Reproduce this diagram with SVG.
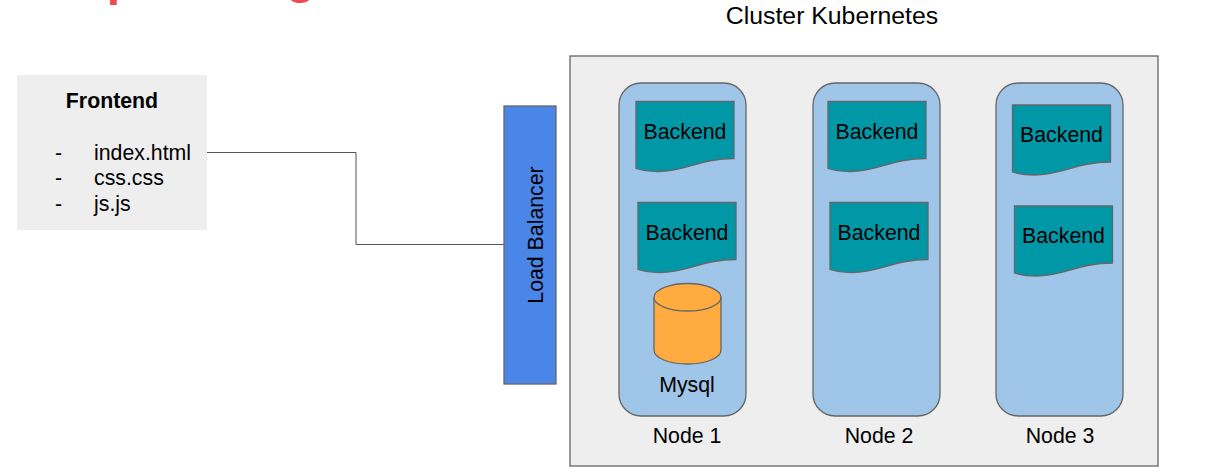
<svg xmlns="http://www.w3.org/2000/svg" width="1218" height="474" viewBox="0 0 1218 474">
<style>
text{font-family:"Liberation Sans",Arial,sans-serif;font-size:21.3px;fill:#000}
.s{stroke:#666;stroke-width:1.3}
.node{fill:#9fc5e8}
.doc{fill:#0097a7}
.m{text-anchor:middle}
.clip{font-size:48px;font-weight:700;fill:#f4484f}
</style>
<defs>
<path id="d" class="doc s" d="M0 0H98V57C64 57 49 70 22 70C12 70 6 69 0 67Z"/>
</defs>
<rect width="1218" height="474" fill="#fff"/>
<text id="clipped-title" x="106.700" y="-5.500" class="clip">p</text>
<text x="286" y="-7" class="clip">g</text>
<g id="connectors"><path d="M207 152.500H356V244.500H504" fill="none" stroke="#555" stroke-width="1"/></g>
<g id="frontend"><rect x="17" y="75" width="190" height="155" fill="#eee"/>
<text x="112" y="108" class="m" style="font-weight:700">Frontend</text>
<text x="55" y="160">-</text><text x="94" y="160">index.html</text>
<text x="55" y="185">-</text><text x="94" y="185">css.css</text>
<text x="55" y="211">-</text><text x="94" y="211">js.js</text></g>
<g id="load-balancer"><rect x="504" y="106" width="52" height="278" fill="#4a86e8" class="s"/>
<text transform="translate(543 235) rotate(-90)" class="m">Load Balancer</text></g>
<g id="cluster"><rect x="570" y="56" width="588" height="410" fill="#eee" class="s"/>
<text x="832" y="24" class="m" style="font-size:24.800px">Cluster Kubernetes</text></g>
<g id="node1"><rect x="619" y="83" width="127" height="333" rx="22" class="node s"/><text x="687" y="443" class="m">Node 1</text></g>
<g id="node2"><rect x="813" y="83" width="127" height="333" rx="22" class="node s"/><text x="879" y="443" class="m">Node 2</text></g>
<g id="node3"><rect x="996" y="83" width="127" height="333" rx="22" class="node s"/><text x="1060" y="443" class="m">Node 3</text></g>
<g id="backend1"><use href="#d" x="636" y="101.500"/><text x="685" y="139" class="m">Backend</text></g>
<g id="backend2"><use href="#d" x="638" y="202.500"/><text x="687" y="240" class="m">Backend</text></g>
<g id="backend3"><use href="#d" x="828" y="101.500"/><text x="877" y="139" class="m">Backend</text></g>
<g id="backend4"><use href="#d" x="830" y="202.500"/><text x="879" y="240" class="m">Backend</text></g>
<g id="backend5"><use href="#d" x="1012.500" y="105"/><text x="1061.500" y="142" class="m">Backend</text></g>
<g id="backend6"><use href="#d" x="1014.500" y="206"/><text x="1063.500" y="243" class="m">Backend</text></g>
<g id="mysql"><path d="M654 297.500C654 290 669 283.500 687.500 283.500S721 290 721 297.500V350C721 358 706 364 687.500 364S654 358 654 350Z" fill="#ffab40" class="s"/>
<path d="M654 297.500C654 305 669 311 687.500 311S721 305 721 297.500" fill="none" class="s"/>
<text x="687" y="391.500" class="m">Mysql</text></g>
</svg>
